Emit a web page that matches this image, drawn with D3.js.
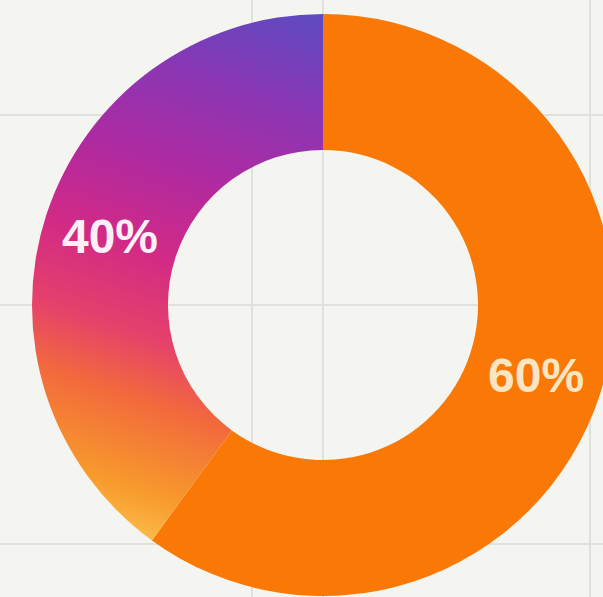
<!DOCTYPE html>
<html>
<head>
<meta charset="utf-8">
<script src="https://cdn.jsdelivr.net/npm/d3@7"></script>
<style>
  html, body { margin: 0; padding: 0; background: #f4f4f0; }
  svg { display: block; }
</style>
</head>
<body>
<svg id="chart" width="603" height="597"></svg>
<script>
// Share data
const categories = ["A", "B"];
const values = [60, 40];
const labels = ["60%", "40%"];

// Background grid positions (px)
const gridX = [252, 323, 590];
const gridY = [115, 305, 544];

const width = 603, height = 597;
const cx = 323, cy = 305;
const outerR = 291, innerR = 155;

const svg = d3.select("#chart");

svg.append("rect").attr("width", width).attr("height", height).attr("fill", "#f4f4f0");

const grid = svg.append("g").attr("stroke", "#e0e0dc").attr("stroke-width", 2);
grid.selectAll("line.v").data(gridX).join("line")
  .attr("class", "v").attr("x1", d => d).attr("x2", d => d).attr("y1", 0).attr("y2", height);
grid.selectAll("line.h").data(gridY).join("line")
  .attr("class", "h").attr("y1", d => d).attr("y2", d => d).attr("x1", 0).attr("x2", width);

// Gradient for the second segment (coordinates relative to the donut centre):
// warm yellow at the bottom sweeping up to violet at the top
const defs = svg.append("defs");
const grad = defs.append("linearGradient")
  .attr("id", "segGrad")
  .attr("gradientUnits", "userSpaceOnUse")
  .attr("x1", -173).attr("y1", 250)
  .attr("x2", 7).attr("y2", -295);
const stops = [
  [0.00, "#fcc553"],
  [0.10, "#f89a2c"],
  [0.25, "#f26a3c"],
  [0.36, "#e5416a"],
  [0.50, "#d22a86"],
  [0.65, "#b02aa0"],
  [0.82, "#8a36b4"],
  [1.00, "#5a4cc2"]
];
grad.selectAll("stop").data(stops).join("stop")
  .attr("offset", d => d[0]).attr("stop-color", d => d[1]);

const colors = d3.scaleOrdinal().domain(categories).range(["#f97806", "url(#segGrad)"]);

const pie = d3.pie().sort(null).value(d => d.value);
const arcs = pie(categories.map((c, i) => ({ cat: c, value: values[i], label: labels[i] })));

const arc = d3.arc().innerRadius(innerR).outerRadius(outerR);
const labelArc = d3.arc().innerRadius(224).outerRadius(224);

const g = svg.append("g").attr("transform", `translate(${cx},${cy})`);

g.selectAll("path").data(arcs).join("path")
  .attr("d", arc)
  .attr("fill", d => colors(d.data.cat));

g.selectAll("text").data(arcs).join("text")
  .attr("transform", d => `translate(${labelArc.centroid(d)})`)
  .attr("text-anchor", "middle")
  .attr("dy", "0.36em")
  .attr("font-family", "'Liberation Sans', Arial, sans-serif")
  .attr("font-weight", "bold")
  .attr("font-size", 48)
  .attr("fill", (d, i) => i === 0 ? "#fbe6c4" : "#fdf0f6")
  .text(d => d.data.label);
</script>
</body>
</html>
